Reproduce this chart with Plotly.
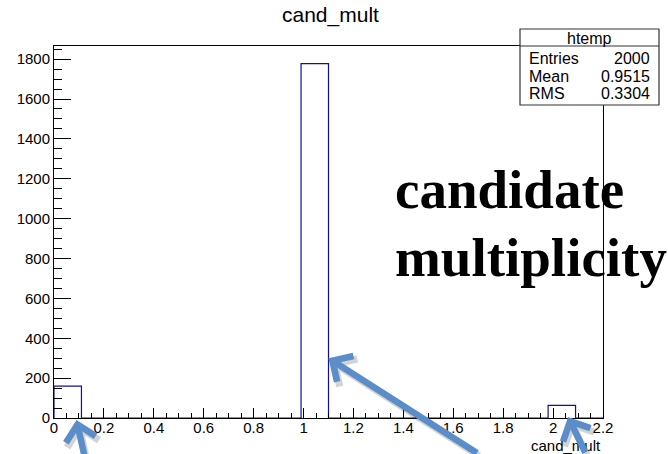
import numpy as np
import plotly.graph_objects as go

# cand_mult: number of candidates per event, filled into a 20-bin histogram on [0, 2.2]
mult_values = [0, 1, 2]
mult_entries = [160, 1777, 63]
n_bins = 20
x_lo, x_hi = 0.0, 2.2

x_tick_vals = [0, 0.2, 0.4, 0.6, 0.8, 1.0, 1.2, 1.4, 1.6, 1.8, 2.0, 2.2]
x_tick_text = ["0", "0.2", "0.4", "0.6", "0.8", "1", "1.2", "1.4", "1.6", "1.8", "2", "2.2"]
y_tick_vals = [0, 200, 400, 600, 800, 1000, 1200, 1400, 1600, 1800]

edges = np.linspace(x_lo, x_hi, n_bins + 1)
counts, _ = np.histogram(mult_values, bins=edges, weights=mult_entries)

# statistics box values
vals = np.array(mult_values, dtype=float)
w = np.array(mult_entries, dtype=float)
n_entries = int(w.sum())
mean = float((vals * w).sum() / w.sum())
rms = float(np.sqrt((vals ** 2 * w).sum() / w.sum() - mean ** 2))

# step outline of the histogram
step_x = [edges[0]] + list(edges[:-1]) + [edges[-1], edges[-1]]
step_y = [0] + list(counts) + [counts[-1], 0]

W, H = 668, 454
L, R, T, B = 54, 65, 46, 36
PW, PH = W - L - R, H - T - B


def px_x(px):
    return (px - L) / PW


def px_y(py):
    return (H - B - py) / PH


SANS = "Liberation Sans, Arial, Helvetica, sans-serif"
SERIF = "Liberation Serif, Times New Roman, serif"
HIST_COLOR = "#1010a4"
ARROW_COLOR = "#5b8ec9"

fig = go.Figure()
fig.add_trace(go.Scatter(
    x=step_x, y=step_y, mode="lines",
    line=dict(shape="hv", color=HIST_COLOR, width=1.2),
    hoverinfo="skip", showlegend=False,
))

y_top = 1.05 * max(counts)

fig.update_layout(
    width=W, height=H,
    margin=dict(l=L, r=R, t=T, b=B, pad=0),
    paper_bgcolor="white", plot_bgcolor="white",
    showlegend=False,
    font=dict(family=SANS, color="black"),
    xaxis=dict(
        range=[x_lo, x_hi], showgrid=False, zeroline=False,
        showline=True, linecolor="black", linewidth=1, mirror=True,
        tickmode="array", tickvals=x_tick_vals, ticktext=x_tick_text,
        ticks="inside", ticklen=10, tickwidth=1, tickcolor="black",
        ticklabelstandoff=-4,
        minor=dict(tickmode="linear", tick0=0, dtick=0.05, ticks="inside",
                   ticklen=5, tickwidth=1, tickcolor="black", showgrid=False),
        tickfont=dict(family=SANS, size=15, color="black"),
    ),
    yaxis=dict(
        range=[0, y_top], showgrid=False, zeroline=False,
        showline=True, linecolor="black", linewidth=1, mirror=True,
        tickmode="array", tickvals=y_tick_vals,
        ticks="inside", ticklen=17, tickwidth=1, tickcolor="black",
        minor=dict(tickmode="linear", tick0=0, dtick=50, ticks="inside",
                   ticklen=8, tickwidth=1, tickcolor="black", showgrid=False),
        tickfont=dict(family=SANS, size=15, color="black"),
    ),
)

annotations = []

# title and x-axis title
annotations.append(dict(text="cand_mult", xref="paper", yref="paper",
                        x=px_x(330), y=px_y(15), xanchor="center", yanchor="middle",
                        showarrow=False, font=dict(family=SANS, size=21, color="black")))
annotations.append(dict(text="cand_mult", xref="paper", yref="paper",
                        x=1.0, y=px_y(445), xanchor="right", yanchor="middle",
                        showarrow=False, font=dict(family=SANS, size=15, color="black")))

# statistics box
box_l, box_r, box_t, box_b, box_sep = 520, 659, 29, 105, 46
shapes = [
    dict(type="rect", xref="paper", yref="paper",
         x0=px_x(box_l), x1=px_x(box_r), y0=px_y(box_b), y1=px_y(box_t),
         line=dict(color="#333333", width=1.2), fillcolor="white", layer="above"),
    dict(type="line", xref="paper", yref="paper",
         x0=px_x(box_l), x1=px_x(box_r), y0=px_y(box_sep), y1=px_y(box_sep),
         line=dict(color="#333333", width=1.2), layer="above"),
]
annotations.append(dict(text="htemp", xref="paper", yref="paper",
                        x=px_x((box_l + box_r) / 2), y=px_y(38), xanchor="center", yanchor="middle",
                        showarrow=False, font=dict(family=SANS, size=16, color="black")))
stat_rows = [("Entries", f"{n_entries}"), ("Mean", f"{mean:.4f}"), ("RMS", f"{rms:.4f}")]
for i, (name, val) in enumerate(stat_rows):
    yc = px_y(59 + 17 * i)
    annotations.append(dict(text=name, xref="paper", yref="paper",
                            x=px_x(527), y=yc, xanchor="left", yanchor="middle",
                            showarrow=False, font=dict(family=SANS, size=16, color="black")))
    annotations.append(dict(text=val, xref="paper", yref="paper",
                            x=px_x(652), y=yc, xanchor="right", yanchor="middle",
                            showarrow=False, font=dict(family=SANS, size=16, color="black")))

# large label
annotations.append(dict(text="<b>candidate</b>", xref="paper", yref="paper",
                        x=px_x(393), y=px_y(189), xanchor="left", yanchor="middle",
                        showarrow=False, font=dict(family=SERIF, size=55, color="black")))
annotations.append(dict(text="<b>multiplicity</b>", xref="paper", yref="paper",
                        x=px_x(393), y=px_y(257), xanchor="left", yanchor="middle",
                        showarrow=False, font=dict(family=SERIF, size=55, color="black")))

# pointer arrows: head in data coordinates (pushed down by a pixel shift), tail offset in pixels
arrows = [
    (0.09, 0, -2, 8, 55),
    (1.10, 300, 0, 150, 111),
    (2.06, 5, 0, 18, 55),
]
for ax_x, ax_y, shift, dx, dy in arrows:
    annotations.append(dict(text="", x=ax_x, y=ax_y, xref="x", yref="y",
                            ax=dx, ay=dy, axref="pixel", ayref="pixel",
                            showarrow=True, arrowhead=4, arrowsize=0.9, arrowwidth=7,
                            arrowcolor="rgba(60,60,60,0.22)", xshift=2, yshift=shift - 3,
                            standoff=0))
for ax_x, ax_y, shift, dx, dy in arrows:
    annotations.append(dict(text="", x=ax_x, y=ax_y, xref="x", yref="y",
                            ax=dx, ay=dy, axref="pixel", ayref="pixel",
                            showarrow=True, arrowhead=4, arrowsize=0.9, arrowwidth=6.5,
                            arrowcolor=ARROW_COLOR, yshift=shift, standoff=0))

fig.update_layout(annotations=annotations, shapes=shapes)

fig.write_html("out.html")
